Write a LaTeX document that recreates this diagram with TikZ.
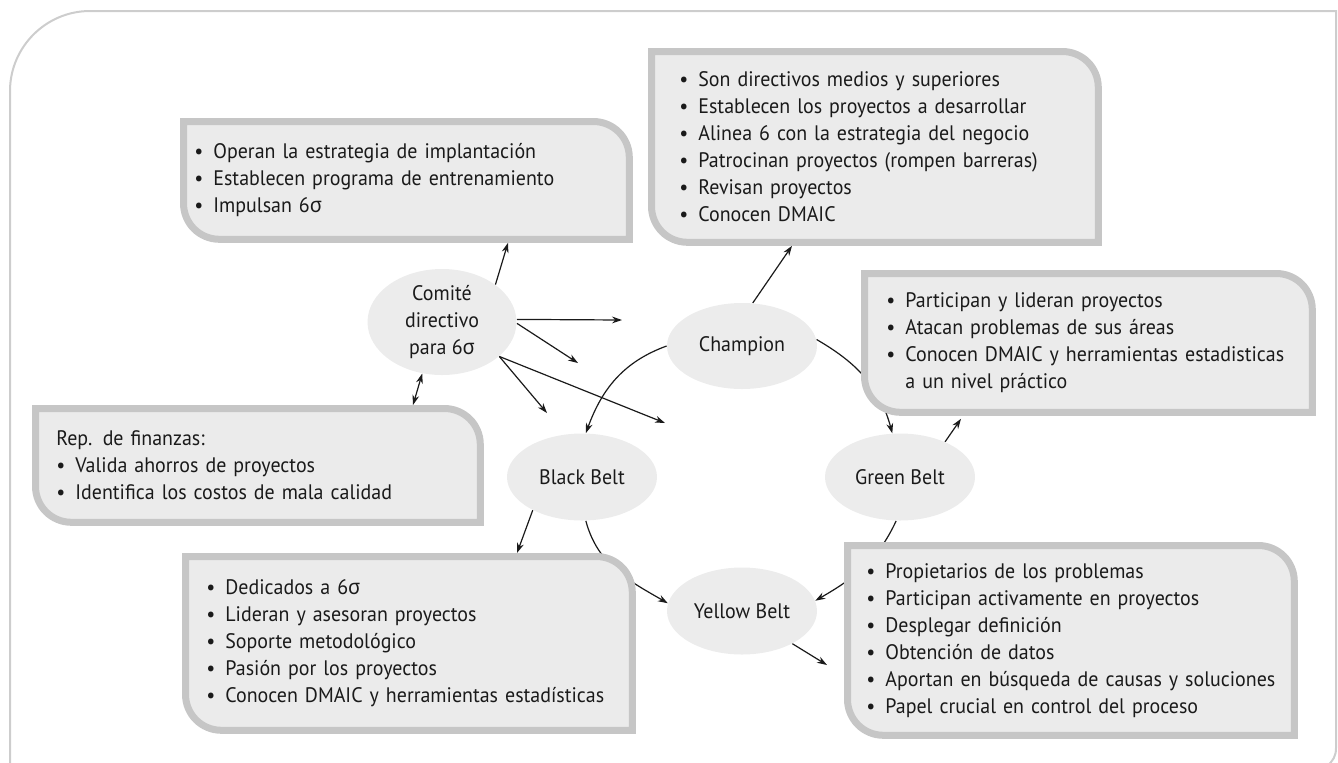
\documentclass[tikz,border=0pt]{standalone}
\usepackage{fontspec}
\setmainfont{PT Sans}[FakeStretch=0.95]
\newfontfamily\grkfont{Noto Sans}[FakeStretch=0.95]
\usetikzlibrary{arrows.meta,positioning,calc,shapes.geometric}
\definecolor{ink}{HTML}{1A1A1A}
\definecolor{boxfill}{HTML}{EBEBEB}
\definecolor{boxrim}{HTML}{C6C6C6}
\definecolor{ovalfill}{HTML}{ECECEC}
\definecolor{pagerim}{HTML}{CDCDCD}
\newcommand{\sig}{{\grkfont σ}}
\newcommand{\itm}[1]{\mbox{\makebox[9.5pt][l]{\textbullet}#1}}
\pgfdeclarelayer{lines}
\pgfdeclarelayer{frames}
\pgfsetlayers{lines,frames,main}

\tikzset{
  role/.style={ellipse, fill=ovalfill, inner sep=0pt, align=center, text=ink,
    minimum width=75pt, minimum height=43.5pt},
  rolebox/.style={anchor=north west, inner ysep=0pt, align=left, text=ink},
  link/.style={-{Stealth[length=5pt,width=3.4pt]}, line width=0.6pt, draw=ink},
  twolink/.style={{Stealth[length=5pt,width=3.4pt]}-{Stealth[length=5pt,width=3.4pt]},
    line width=0.6pt, draw=ink},
  rim/.style={draw=boxrim, fill=boxfill, line width=3.5pt},
}

% grey frame with two rounded corners round a box node
\newcommand{\drawrim}[1]{%
  \draw[rim] ($(#1.north west)+(3.5,-3.5)$) -- ($(#1.north east)+(-39.5,-3.5)$)
    .. controls ($(#1.north east)+(-19.5,-3.5)$) and ($(#1.north east)+(-3.5,-19.5)$) .. ($(#1.north east)+(-3.5,-39.5)$)
    -- ($(#1.south east)+(-3.5,3.5)$) -- ($(#1.south west)+(39.5,3.5)$)
    .. controls ($(#1.south west)+(19.5,3.5)$) and ($(#1.south west)+(3.5,19.5)$) .. ($(#1.south west)+(3.5,39.5)$)
    -- cycle;}

\begin{document}
\begin{tikzpicture}[x=0.5pt, y=0.5pt, font=\fontsize{10.5pt}{13.5pt}\selectfont]
  \useasboundingbox (0,0) rectangle (1338,-762);
  % page frame
  \draw[pagerim, line width=1pt] (10,-770) -- (10,-91)
    .. controls (10,-47) and (46,-11) .. (90,-11) -- (1336,-11) -- (1336,-748)
    .. controls (1336,-756) and (1333,-761) .. (1327,-766);

  % roles
  \node[role, minimum width=74.5pt, minimum height=53pt] (com) at (442,-322) {Comité\\directivo\\para 6\sig};
  \node[role, minimum height=43pt] (cham) at (742,-346) {Champion};
  \node[role] (bb) at (582,-477) {Black Belt};
  \node[role] (gb) at (900,-477) {Green Belt};
  \node[role] (yb) at (742,-611) {Yellow Belt};

  % boxes
  \node[rolebox, minimum width=226pt, minimum height=62pt, inner xsep=7pt, text width=212pt]
    (combox) at (180,-118) {\itm{Operan la estrategia de implantación}\\
      \itm{Establecen programa de entrenamiento}\\
      \itm{Impulsan 6\sig}};
  \node[rolebox, minimum width=226.5pt, minimum height=98.5pt, inner xsep=15.5pt, text width=195.5pt]
    (chambox) at (648,-48) {\itm{Son directivos medios y superiores}\\
      \itm{Establecen los proyectos a desarrollar}\\
      \itm{Alinea 6 con la estrategia del negocio}\\
      \itm{Patrocinan proyectos (rompen barreras)}\\
      \itm{Revisan proyectos}\\
      \itm{Conocen DMAIC}};
  \node[rolebox, minimum width=227pt, minimum height=72.5pt, inner xsep=12.5pt, text width=202pt]
    (gbbox) at (861,-270) {\itm{Participan y lideran proyectos}\\
      \itm{Atacan problemas de sus áreas}\\
      \itm{Conocen DMAIC y herramientas estadisticas}\\
      \hspace*{9.5pt}a un nivel práctico};
  \node[rolebox, minimum width=225.5pt, minimum height=60pt, inner xsep=12pt, text width=201.5pt]
    (finbox) at (32,-405) {Rep. de finanzas:\\
      \itm{Valida ahorros de proyectos}\\
      \itm{Identifica los costos de mala calidad}};
  \node[rolebox, minimum width=226.5pt, minimum height=90pt, inner xsep=12pt, text width=202.5pt]
    (bbbox) at (182,-553) {\itm{Dedicados a 6\sig}\\
      \itm{Lideran y asesoran proyectos}\\
      \itm{Soporte metodológico}\\
      \itm{Pasión por los proyectos}\\
      \itm{Conocen DMAIC y herramientas estadísticas}};
  \node[rolebox, minimum width=226.5pt, minimum height=98pt, inner xsep=11pt, text width=204.5pt]
    (ybbox) at (844,-542) {\itm{Propietarios de los problemas}\\
      \itm{Participan activamente en proyectos}\\
      \itm{Desplegar definición}\\
      \itm{Obtención de datos}\\
      \itm{Aportan en búsqueda de causas y soluciones}\\
      \itm{Papel crucial en control del proceso}};

  \begin{pgfonlayer}{frames}
    \foreach \b in {combox,chambox,gbbox,finbox,bbbox,ybbox} {\drawrim{\b}}
  \end{pgfonlayer}

  % loose arrow ends
  \coordinate (c1) at (622,-320);
  \coordinate (c2) at (578,-363);
  \coordinate (c3) at (547,-413);
  \coordinate (c4) at (665,-423);
  \coordinate (c5) at (827,-665);

  \begin{pgfonlayer}{lines}
    \draw[link] (com.35) -- ($(combox.south west)+(328,0)$);
    \draw[link] (com.2) -- (c1);
    \draw[link] (com.-1) -- (c2);
    \draw[link] (com.-31) -- (c3);
    \draw[link] (com.-31) -- (c4);
    \draw[twolink] (com.-111) -- ($(finbox.north west)+(381,0)$);
    \draw[link] (cham.76) -- ($(chambox.south west)+(144,0)$);
    \draw[link] (cham.west) to[out=200,in=70] (bb.85);
    \draw[link] (cham.5) to[out=-30,in=105] (gb.100);
    \draw[link] (gb.38) -- ($(gbbox.south west)+(100,-3)$);
    \draw[link] (bb.214) -- ($(bbbox.north west)+(335,0)$);
    \draw[link] (bb.-85) to[out=-75,in=150] (yb.174);
    \draw[link] (gb.-95) to[out=245,in=30] (yb.8);
    \draw[link] (yb.-33) -- (c5);
  \end{pgfonlayer}
\end{tikzpicture}
\end{document}
